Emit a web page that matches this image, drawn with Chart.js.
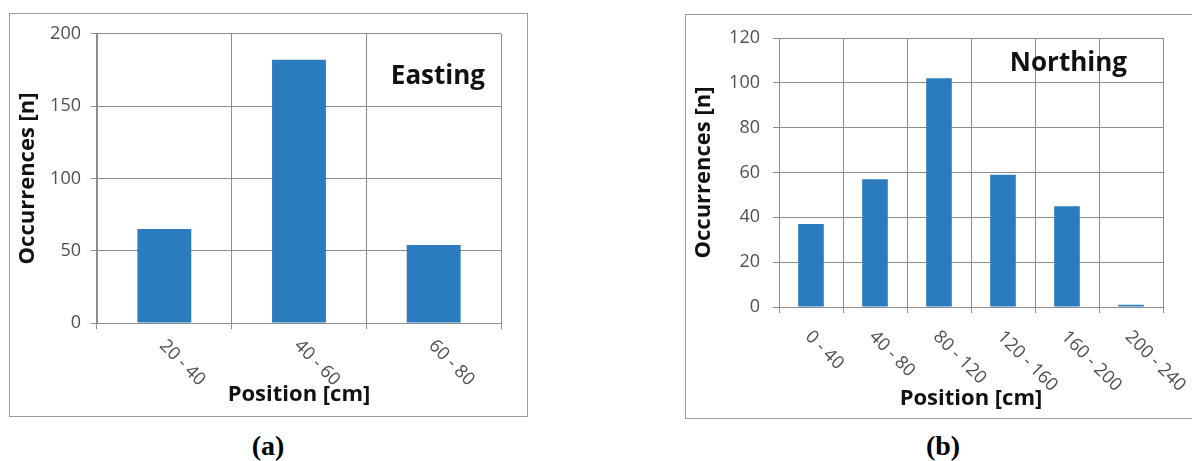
<!DOCTYPE html>
<html>
<head>
<meta charset="utf-8">
<script src="https://cdn.jsdelivr.net/npm/chart.js@4.4.0/dist/chart.umd.min.js"></script>
<style>
  html, body { margin: 0; padding: 0; background: #fff; }
  body { width: 1192px; height: 461px; position: relative; overflow: hidden; }
  .frame { position: absolute; border: 1.5px solid #9b9b9b; box-sizing: border-box; pointer-events: none; }
  #frameA { left: 9px; top: 13px; width: 519px; height: 404px; }
  #frameB { left: 685px; top: 14px; width: 520px; height: 405px; }
  canvas { position: absolute; }
  #eastCanvas { left: 9px; top: 13px; }
  #northCanvas { left: 685px; top: 14px; }
  .caption { position: absolute; top: 430px; width: 80px; text-align: center;
             font: bold 28px "Liberation Serif", serif; color: #000; line-height: 32px; }
  #capA { left: 228px; }
  #capB { left: 903px; }
</style>
</head>
<body>
<canvas id="eastCanvas" width="519" height="404"></canvas>
<canvas id="northCanvas" width="507" height="405"></canvas>
<div class="frame" id="frameA"></div>
<div class="frame" id="frameB"></div>
<div class="caption" id="capA">(a)</div>
<div class="caption" id="capB">(b)</div>
<script>
// Occurrence counts per position bin, easting and northing
const eastCategories = ['20 - 40', '40 - 60', '60 - 80'];
const eastCounts = [65, 182, 54];
const eastTicks = [0, 50, 100, 150, 200];

const northCategories = ['0 - 40', '40 - 80', '80 - 120', '120 - 160', '160 - 200', '200 - 240'];
const northCounts = [37, 57, 102, 59, 45, 1];
const northTicks = [0, 20, 40, 60, 80, 100, 120];

const BAR_BLUE = '#2b7bbf';
const GRID = '#8c8c8c';
const TICK_TEXT = '#4f4f4f';
Chart.defaults.font.family = '"Open Sans", sans-serif';

// Category labels slanted downwards, starting under each bin
const slantedLabels = {
  id: 'slantedLabels',
  afterDraw(chart, args, opts) {
    const { ctx } = chart;
    const xs = chart.scales.x;
    ctx.save();
    ctx.font = '18px "Open Sans"';
    ctx.fillStyle = TICK_TEXT;
    ctx.textAlign = 'left';
    ctx.textBaseline = 'middle';
    chart.data.labels.forEach((lab, i) => {
      ctx.save();
      ctx.translate(xs.getPixelForValue(i) + opts.dx, xs.top + opts.dy);
      ctx.rotate(Math.PI / 4);
      ctx.fillText(lab, 0, 0);
      ctx.restore();
    });
    ctx.restore();
  }
};

// Panel name in the upper right of the plot
const panelName = {
  id: 'panelName',
  afterDraw(chart, args, opts) {
    const { ctx, chartArea } = chart;
    ctx.save();
    ctx.font = 'bold 26px "Open Sans"';
    ctx.fillStyle = '#111';
    ctx.textAlign = 'right';
    ctx.textBaseline = 'alphabetic';
    ctx.fillText(opts.text, chartArea.right - opts.dx, chartArea.top + opts.dy);
    ctx.restore();
  }
};

function makeChart(id, labels, counts, ticks, cfg) {
  return new Chart(document.getElementById(id), {
    type: 'bar',
    data: {
      labels: labels,
      datasets: [{
        data: counts,
        backgroundColor: BAR_BLUE,
        borderWidth: 0,
        barPercentage: 0.4,
        categoryPercentage: 1.0
      }]
    },
    options: {
      responsive: false,
      animation: false,
      layout: { padding: { top: cfg.padTop, right: cfg.padRight, left: 0, bottom: 0 } },
      plugins: {
        legend: { display: false },
        tooltip: { enabled: false },
        slantedLabels: { dx: cfg.labelDx, dy: cfg.labelDy },
        panelName: { text: cfg.name, dx: cfg.nameDx, dy: cfg.nameDy }
      },
      scales: {
        x: {
          grid: { color: GRID, lineWidth: 1, offset: true, drawTicks: true, tickLength: 6 },
          border: { color: GRID, width: 1 },
          ticks: { display: false },
          title: {
            display: true,
            text: 'Position [cm]',
            color: '#111',
            font: { size: 22, weight: 'bold' },
            padding: { top: 0, bottom: cfg.xTitlePad }
          },
          afterFit: s => { s.height = cfg.xHeight; }
        },
        y: {
          min: ticks[0],
          max: ticks[ticks.length - 1],
          afterBuildTicks: s => { s.ticks = ticks.map(v => ({ value: v })); },
          grid: { color: GRID, lineWidth: 1, drawTicks: true, tickLength: 6 },
          border: { color: GRID, width: 1 },
          ticks: { color: TICK_TEXT, font: { size: 18 }, padding: cfg.yTickPad },
          title: {
            display: true,
            text: 'Occurrences [n]',
            color: '#111',
            font: { size: 22, weight: 'bold' },
            padding: { top: 6, bottom: 0 }
          },
          afterFit: s => { s.width = cfg.yWidth; }
        }
      }
    },
    plugins: [slantedLabels, panelName]
  });
}

makeChart('eastCanvas', eastCategories, eastCounts, eastTicks, {
  name: 'Easting', nameDx: 16, nameDy: 50,
  padTop: 18, padRight: 27, xHeight: 94, yWidth: 88,
  yTickPad: 10, xTitlePad: 9, labelDx: -2, labelDy: 20
});

makeChart('northCanvas', northCategories, northCounts, northTicks, {
  name: 'Northing', nameDx: 36, nameDy: 33,
  padTop: 24, padRight: 29, xHeight: 112, yWidth: 94,
  yTickPad: 13, xTitlePad: 7, labelDx: -3, labelDy: 27
});
</script>
</body>
</html>
